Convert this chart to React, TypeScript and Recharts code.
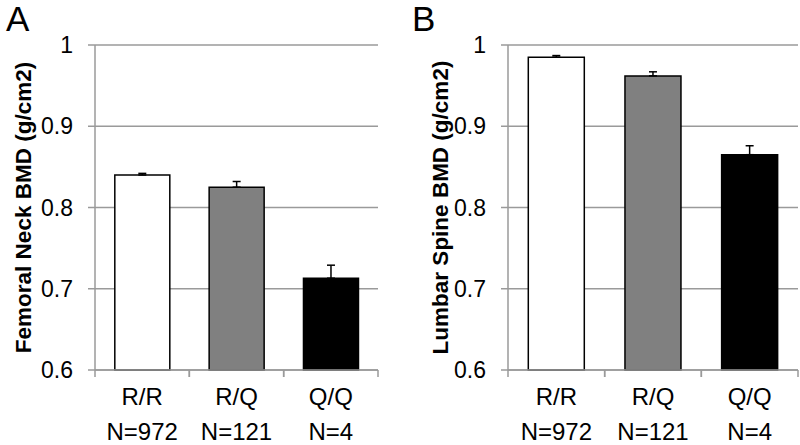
import React from 'react'
import { Bar, BarChart, CartesianGrid, Cell, ErrorBar, XAxis, YAxis } from 'recharts'

const genotypes = ['R/R', 'R/Q', 'Q/Q']
const groupSizes = ['N=972', 'N=121', 'N=4']
const femoralNeck = [0.84, 0.825, 0.713]
const femoralNeckErr = [0.002, 0.007, 0.016]
const lumbarSpine = [0.985, 0.962, 0.865]
const lumbarSpineErr = [0.002, 0.005, 0.011]
const yTicks = [0.6, 0.7, 0.8, 0.9, 1]
const barColors = ['#ffffff', '#808080', '#000000']

const font = '"Liberation Sans", Arial, sans-serif'
const W = 400
const H = 445
const TOP = 45
const BOTTOM = 75
const GRID = '#9a9a9a'

const CatTick = (props: any) => {
  const { x, payload, band } = props
  const i = genotypes.indexOf(payload.value)
  const axisY = H - BOTTOM
  return (
    <g>
      <line x1={x - band / 2} x2={x - band / 2} y1={axisY} y2={axisY + 7} stroke={GRID} strokeWidth={1.5} />
      <line x1={x + band / 2} x2={x + band / 2} y1={axisY} y2={axisY + 7} stroke={GRID} strokeWidth={1.5} />
      <text x={x} y={405} textAnchor='middle' fontSize={24} fontFamily={font} fill='#000'>
        {payload.value}
      </text>
      <text x={x} y={440} textAnchor='middle' fontSize={24} fontFamily={font} fill='#000'>
        {groupSizes[i]}
      </text>
    </g>
  )
}

const YTitle = ({ text, cx }: any) => (
  <text
    x={cx}
    y={(TOP + H - BOTTOM) / 2}
    transform={`rotate(-90, ${cx}, ${(TOP + H - BOTTOM) / 2})`}
    textAnchor='middle'
    dominantBaseline='central'
    fontSize={22.5}
    fontWeight='bold'
    fontFamily={font}
    fill='#000'
  >
    {text}
  </text>
)

interface PanelProps {
  letter: string
  letterX: number
  title: string
  titleX: number
  values: number[]
  errs: number[]
  yWidth: number
  right: number
}

const Panel: React.FC<PanelProps> = ({ letter, letterX, title, titleX, values, errs, yWidth, right }) => {
  const data = genotypes.map((g, i) => ({ name: g, value: values[i], err: [0, errs[i]] }))
  const band = (W - yWidth - right) / genotypes.length
  return (
    <div style={{ position: 'relative', width: W, height: H }}>
      <div style={{ position: 'absolute', left: letterX, top: 1, fontFamily: font, fontSize: 35, lineHeight: '35px' }}>
        {letter}
      </div>
      <BarChart width={W} height={H} data={data} margin={{ top: TOP, right, bottom: 0, left: 0 }} barCategoryGap='21%'>
        <CartesianGrid vertical={false} stroke={GRID} strokeWidth={1.5} />
        <XAxis
          dataKey='name'
          height={BOTTOM}
          stroke={GRID}
          strokeWidth={1.5}
          tickLine={false}
          tick={<CatTick band={band} />}
        />
        <YAxis
          width={yWidth}
          domain={[0.6, 1]}
          ticks={yTicks}
          interval={0}
          stroke={GRID}
          strokeWidth={1.5}
          tickSize={7}
          tickMargin={15}
          tick={{ fill: '#000', fontSize: 23, fontFamily: font }}
          tickFormatter={(v: number) => (v === 1 ? '1' : v.toFixed(1))}
          label={<YTitle text={title} cx={titleX} />}
        />
        <Bar dataKey='value' stroke='#000' strokeWidth={1.5} isAnimationActive={false}>
          {data.map((d, i) => (
            <Cell key={d.name} fill={barColors[i]} />
          ))}
          <ErrorBar dataKey='err' direction='y' width={4} stroke='#000' strokeWidth={1.5} isAnimationActive={false} />
        </Bar>
      </BarChart>
    </div>
  )
}

const App = () => {
  return (
    <div style={{ position: 'absolute', left: 0, top: 0, display: 'flex', background: '#fff' }}>
      <Panel
        letter='A'
        letterX={6}
        title='Femoral Neck BMD (g/cm2)'
        titleX={23}
        values={femoralNeck}
        errs={femoralNeckErr}
        yWidth={95}
        right={22}
      />
      <Panel
        letter='B'
        letterX={12}
        title='Lumbar Spine BMD (g/cm2)'
        titleX={40}
        values={lumbarSpine}
        errs={lumbarSpineErr}
        yWidth={108}
        right={2}
      />
    </div>
  )
}

export default App
